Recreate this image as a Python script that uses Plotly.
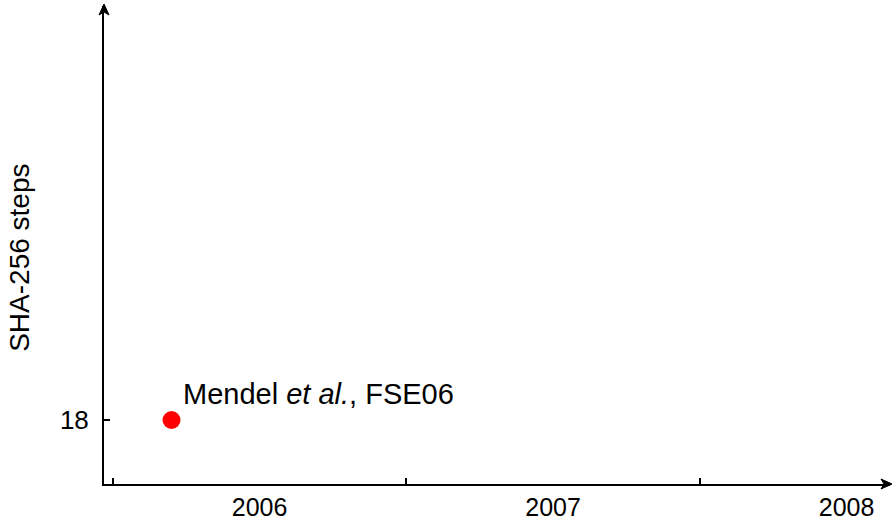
import plotly.graph_objects as go

years = [2006, 2007, 2008]
year_labels = ["2006", "2007", "2008"]
attack_x = [2006.2]
attack_steps = [18]
attack_label = "Mendel <i>et al.</i>, FSE06"
y_ticks = [18]

FONT = "Liberation Sans"

fig = go.Figure()
fig.add_trace(go.Scatter(
    x=attack_x, y=attack_steps, mode="markers",
    marker=dict(color="#ff0000", size=18), showlegend=False, hoverinfo="skip"))

fig.add_annotation(x=attack_x[0], y=attack_steps[0], text=attack_label,
                   showarrow=False, xanchor="left", yanchor="middle",
                   xshift=9, yshift=26, font=dict(family=FONT, size=29, color="black"))

# y-axis title
fig.add_annotation(xref="paper", yref="paper", x=-0.107, y=0.473, text="SHA-256 steps",
                   textangle=-90, showarrow=False, xanchor="center", yanchor="middle",
                   font=dict(family=FONT, size=28, color="black"))

# axis arrowheads (decoration, in pixel units anchored to the axes' ends)
fig.add_shape(type="path", xref="paper", yref="paper", xsizemode="pixel", ysizemode="pixel",
              xanchor=1.0, yanchor=0.0, path="M 2,0 L -9,5 L -6,0 L -9,-5 Z",
              fillcolor="black", line=dict(color="black", width=1))
fig.add_shape(type="path", xref="paper", yref="paper", xsizemode="pixel", ysizemode="pixel",
              xanchor=0.0, yanchor=1.0, path="M 0,2 L -5,-9 L 0,-6 L 5,-9 Z",
              fillcolor="black", line=dict(color="black", width=1))

fig.update_layout(
    width=892, height=520,
    margin=dict(l=104, r=2, t=6, b=36),
    paper_bgcolor="white", plot_bgcolor="white",
    font=dict(family=FONT, size=26, color="black"),
    xaxis=dict(range=[2005.970, 2008.648], showgrid=False, zeroline=False, automargin=False,
               showline=True, linewidth=2, linecolor="black",
               tickmode="array", tickvals=[y + 0.5 for y in years], ticktext=year_labels,
               ticks="", tickfont=dict(family=FONT, size=25),
               minor=dict(tickmode="array", tickvals=years, ticks="inside",
                          ticklen=6, tickwidth=2, tickcolor="black", showgrid=False)),
    yaxis=dict(range=[17, 24.47], showgrid=False, zeroline=False, automargin=False,
               showline=True, linewidth=2, linecolor="black",
               tickmode="array", tickvals=y_ticks, ticktext=[str(v) for v in y_ticks],
               ticks="inside", ticklen=6, tickwidth=2, tickcolor="black",
               ticklabelstandoff=8, tickfont=dict(family=FONT, size=26)),
)

fig.write_html("out.html", config={"displayModeBar": False},
               post_script="document.body.style.margin='0';document.body.style.overflow='hidden';")
